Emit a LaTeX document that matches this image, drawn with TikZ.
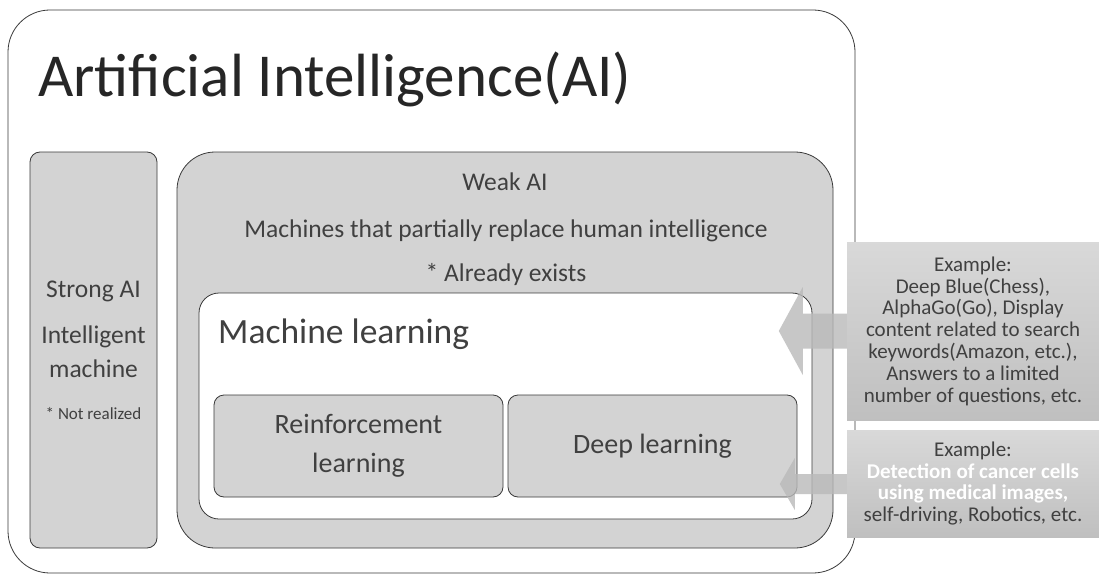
\documentclass[tikz,border=0pt]{standalone}
\usepackage{fontspec}
\setmainfont{Carlito}
\usepackage{tikz}
\usetikzlibrary{shapes,arrows}

\definecolor{boxgray}{HTML}{D3D3D3}
\definecolor{txtgray}{HTML}{404040}
\definecolor{linegray}{HTML}{3A3A3A}
\newcommand{\hlwhite}[1]{\textcolor{white}{\bfseries #1}}

\tikzset{
	panel/.style={draw=linegray, line width=0.8pt, fill=boxgray, inner sep=0pt},
	lbl/.style={text=txtgray, inner sep=0pt, font=\fontsize{25.5}{27}\selectfont},
	example/.style={inner sep=0pt, top color=gray!30, bottom color=gray!50, text=txtgray, align=center, font=\fontsize{21}{21.8}\selectfont},
	blockarrow/.style={fill=gray!55, fill opacity=0.8}
}

\begin{document}
\begin{tikzpicture}[x=1pt,y=-1pt]
		\useasboundingbox (0,0) rectangle (1099,575);
		% outer frame and title
		\node[panel, fill=white, rounded corners=42pt, minimum width=847pt, minimum height=563pt] (ai) at (431.5,291.5) {};
		\node[lbl, anchor=base west, text=black!85, font=\fontsize{61}{62}\selectfont] (aititle) at (38,96) {Artificial Intelligence(AI)};
		% strong AI
		\node[panel, rounded corners=10pt, minimum width=127pt, minimum height=396pt] (strong) at (93.5,350) {};
		\node[lbl, anchor=base] (strongname) at (93.5,297) {Strong AI};
		\node[lbl, anchor=base] (strongdesca) at (93.5,343) {Intelligent};
		\node[lbl, anchor=base] (strongdescb) at (93.5,377) {machine};
		\node[lbl, anchor=base, font=\fontsize{17}{18}\selectfont] (strongnote) at (93.5,419) {* Not realized};
		% weak AI
		\node[panel, rounded corners=38pt, minimum width=656pt, minimum height=396pt] (weak) at (505,350) {};
		\node[lbl, anchor=base] (weakname) at (505,190) {Weak AI};
		\node[lbl, anchor=base] (weakdesc) at (506,237) {Machines that partially replace human intelligence};
		\node[lbl, anchor=base] (weaknote) at (506,281) {* Already exists};
		% machine learning
		\node[panel, fill=white, rounded corners=20pt, minimum width=613pt, minimum height=226pt] (ml) at (505.5,406) {};
		\node[lbl, anchor=base west, font=\fontsize{35.5}{36}\selectfont] (mlname) at (218,343) {Machine learning};
		\node[panel, rounded corners=10pt, minimum width=289pt, minimum height=102pt, align=center, text=txtgray, font=\fontsize{28}{39}\selectfont] (rl) at (358.5,446) {Reinforcement\\learning};
		\node[panel, rounded corners=10pt, minimum width=289pt, minimum height=102pt, text=txtgray, font=\fontsize{28}{30}\selectfont] (dl) at (652.5,446) {Deep learning};
		% examples
		\node[example, minimum width=252pt, minimum height=178pt] (exa) at (973,331) {Example:\\Deep Blue(Chess),\\AlphaGo(Go), Display\\content related to search\\keywords(Amazon, etc.),\\Answers to a limited\\number of questions, etc.};
		\node[example, minimum width=252pt, minimum height=107pt] (exb) at (973,483.5) {Example:\\\hlwhite{Detection of cancer cells}\\\hlwhite{using medical images,}\\self-driving, Robotics, etc.};
		\fill[blockarrow] (exa.west) ++(0,-17.5) -- ++(-44,0) -- ++(0,-26.5) -- ++(-24,44) -- ++(24,44) -- ++(0,-26.5) -- ++(44,0) -- cycle;
		\fill[blockarrow] (exb.west) ++(0,-9.5) -- ++(-52,0) -- ++(0,-16) -- ++(-15,26) -- ++(15,26) -- ++(0,-16) -- ++(52,0) -- cycle;
	\end{tikzpicture}
\end{document}
